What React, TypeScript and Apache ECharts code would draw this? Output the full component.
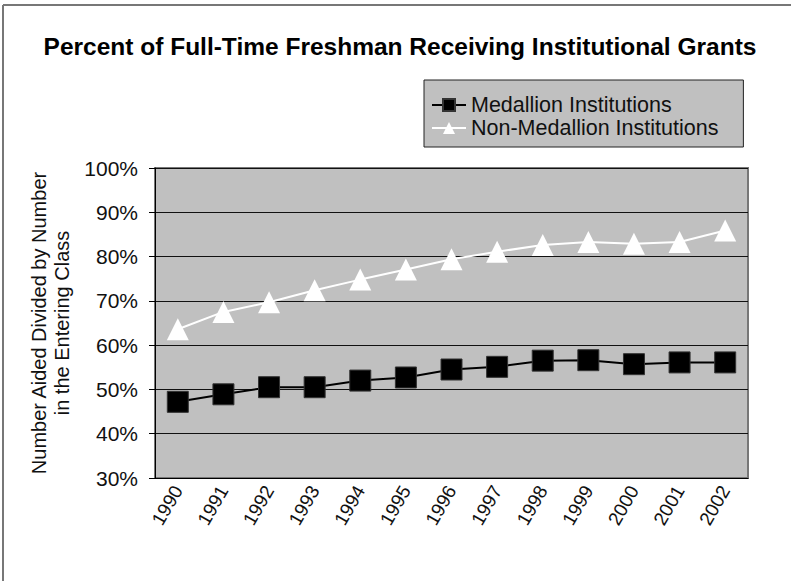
import React, { useEffect, useRef } from "react";
import * as echarts from "echarts";

const years = ["1990", "1991", "1992", "1993", "1994", "1995", "1996", "1997", "1998", "1999", "2000", "2001", "2002"];
const medallion = [47.2, 48.9, 50.5, 50.5, 52.0, 52.7, 54.5, 55.1, 56.5, 56.6, 55.7, 56.1, 56.1];
const nonMedallion = [63.6, 67.5, 69.7, 72.4, 74.8, 77.1, 79.4, 81.1, 82.6, 83.3, 82.9, 83.3, 85.9];

const FONT = "'Liberation Sans', Arial, Helvetica, sans-serif";

export default function App() {
  const ref = useRef<HTMLDivElement>(null);
  useEffect(() => {
    if (!ref.current) return;
    const chart = echarts.init(ref.current, null, { renderer: "svg" });
    chart.setOption({
      animation: false,
      backgroundColor: "#ffffff",
      title: {
        text: "Percent of Full-Time Freshman Receiving Institutional Grants",
        left: 395,
        top: 29,
        textAlign: "center",
        textStyle: { fontFamily: FONT, fontSize: 24.5, fontWeight: "bold", color: "#000" },
      },
      legend: {
        left: 424,
        top: 80,
        orient: "vertical",
        backgroundColor: "#c0c0c0",
        borderColor: "#222",
        borderWidth: 1,
        borderRadius: 0,
        padding: [14, 25, 8, 7],
        itemGap: 1,
        itemWidth: 34,
        itemHeight: 15,
        textStyle: { fontFamily: FONT, fontSize: 21.5, color: "#111", lineHeight: 22 },
        data: [
          { name: "Medallion Institutions" },
          { name: "Non-Medallion Institutions" },
        ],
      },
      grid: {
        left: 155,
        right: 43,
        top: 168,
        bottom: 103,
        show: true,
        backgroundColor: "#c0c0c0",
        borderColor: "#777",
        borderWidth: 2,
      },
      xAxis: {
        type: "category",
        data: years,
        boundaryGap: true,
        axisLine: { lineStyle: { color: "#000", width: 1 } },
        axisTick: { show: false },
        axisLabel: { rotate: 60, fontFamily: FONT, fontSize: 19, color: "#111", margin: 9 },
        splitLine: { show: false },
      },
      yAxis: {
        type: "value",
        min: 30,
        max: 100,
        interval: 10,
        name: "Number Aided Divided by Number\nin the Entering Class",
        nameLocation: "middle",
        nameRotate: 90,
        nameGap: 74,
        nameTextStyle: { fontFamily: FONT, fontSize: 20, color: "#111", lineHeight: 23 },
        axisLine: { show: true, lineStyle: { color: "#000", width: 1 } },
        axisTick: { show: true, length: 6, lineStyle: { color: "#000" } },
        axisLabel: { formatter: "{value}%", fontFamily: FONT, fontSize: 21, color: "#111", margin: 17 },
        splitLine: { show: true, lineStyle: { color: "#111", width: 1 } },
      },
      graphic: [
        { type: "line", shape: { x1: 3, y1: 5, x2: 3, y2: 581 }, style: { stroke: "#777", lineWidth: 2 } },
        { type: "line", shape: { x1: 3, y1: 5, x2: 791, y2: 5 }, style: { stroke: "#777", lineWidth: 2 } },
      ],
      series: [
        {
          name: "Medallion Institutions",
          type: "line",
          data: medallion,
          symbol: "rect",
          symbolSize: 21,
          lineStyle: { color: "#000", width: 2 },
          itemStyle: { color: "#000", borderColor: "#333", borderWidth: 1 },
        },
        {
          name: "Non-Medallion Institutions",
          type: "line",
          data: nonMedallion,
          symbol: "triangle",
          symbolSize: 22,
          lineStyle: { color: "#fff", width: 2 },
          itemStyle: { color: "#fff", borderWidth: 0 },
        },
      ],
    });
    return () => chart.dispose();
  }, []);
  return <div ref={ref} style={{ position: "fixed", left: 0, top: 0, width: 791, height: 581 }} />;
}
